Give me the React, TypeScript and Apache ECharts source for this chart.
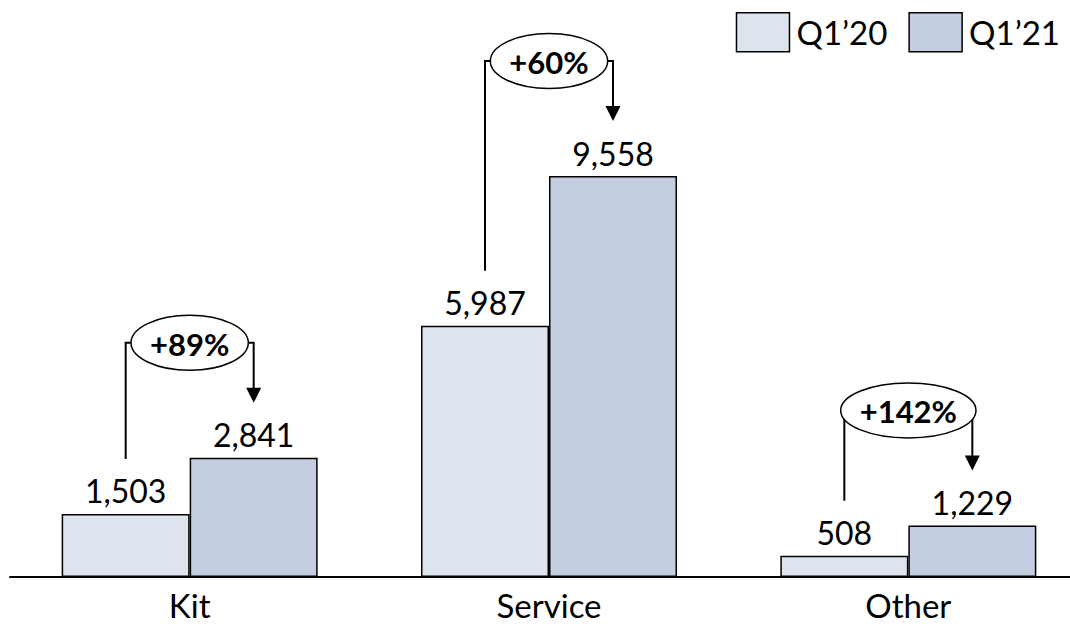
import { useEffect, useRef } from 'react';
import * as echarts from 'echarts';

// Revenue by segment, Q1'20 vs Q1'21
const categories = ['Kit', 'Service', 'Other'];
const seriesNames = ['Q1’20', 'Q1’21'];
const q120Values = [1503, 5987, 508];
const q121Values = [2841, 9558, 1229];

const FONT = 'Lato, "Noto Sans", sans-serif';
const BAR_WIDTH = 128;
const COLORS = ['#DEE4EE', '#C4CEE0'];

function measure(text: string, font: string): number {
  const ctx = document.createElement('canvas').getContext('2d');
  if (!ctx) return text.length * 20;
  ctx.font = font;
  return ctx.measureText(text).width;
}

export default function App() {
  const ref = useRef<HTMLDivElement>(null);

  useEffect(() => {
    if (!ref.current) return;
    const chart = echarts.init(ref.current, undefined, { renderer: 'svg' });

    const valueLabel = {
      show: true,
      position: 'top' as const,
      distance: 7,
      fontSize: 32,
      fontFamily: FONT,
      color: '#000',
      formatter: (p: any) => Number(p.value).toLocaleString('en-US'),
    };

    chart.setOption({
      animation: false,
      backgroundColor: '#fff',
      grid: { left: 10, top: 0, width: 1078, height: 577, outerBoundsMode: 'none', containLabel: false },
      legend: {
        data: seriesNames,
        right: 5,
        top: 7,
        icon: 'rect',
        itemWidth: 53,
        itemHeight: 39,
        itemGap: 21,
        itemStyle: { borderColor: '#000', borderWidth: 1.5 },
        textStyle: { fontSize: 33, fontFamily: FONT, color: '#000', padding: [0, 0, 0, 2] },
      },
      xAxis: {
        type: 'category',
        data: categories,
        axisLine: { lineStyle: { color: '#000', width: 2 } },
        axisTick: { show: false },
        axisLabel: { fontSize: 33, lineHeight: 33, fontFamily: FONT, color: '#000', margin: 11 },
      },
      yAxis: { type: 'value', min: 0, max: 13754, show: false, splitLine: { show: false } },
      series: [
        {
          name: seriesNames[0],
          type: 'bar',
          data: q120Values,
          barWidth: BAR_WIDTH,
          barGap: '0%',
          itemStyle: { color: COLORS[0], borderColor: '#000', borderWidth: 1.5 },
          label: valueLabel,
        },
        {
          name: seriesNames[1],
          type: 'bar',
          data: q121Values,
          barWidth: BAR_WIDTH,
          barGap: '0%',
          itemStyle: { color: COLORS[1], borderColor: '#000', borderWidth: 1.5 },
          label: valueLabel,
        },
      ],
    });

    // Growth brackets: from the Q1'20 bar over to the Q1'21 bar, with a % badge
    const pctFont = `bold 31px ${FONT}`;
    const graphics: any[] = [];
    categories.forEach((_, i) => {
      const a = q120Values[i];
      const b = q121Values[i];
      const [cx, topA] = chart.convertToPixel({ xAxisIndex: 0, yAxisIndex: 0 }, [i, a]) as number[];
      const [, topB] = chart.convertToPixel({ xAxisIndex: 0, yAxisIndex: 0 }, [i, b]) as number[];
      const lx = cx - BAR_WIDTH / 2;
      const rx = cx + BAR_WIDTH / 2;
      const startY = topA - 55;
      const tipY = topB - 55;
      const cy = topB - 115;
      const arrowH = 15;
      const arrowW = 15;
      const text = `+${Math.round((b / a - 1) * 100)}%`;
      const w = measure(text, pctFont);

      graphics.push({
        type: 'polyline',
        shape: { points: [[lx, startY], [lx, cy], [rx, cy], [rx, tipY - arrowH + 1]] },
        style: { stroke: '#000', lineWidth: 2, fill: null },
        z: 10,
      });
      graphics.push({
        type: 'polygon',
        shape: { points: [[rx - arrowW / 2, tipY - arrowH], [rx + arrowW / 2, tipY - arrowH], [rx, tipY]] },
        style: { fill: '#000' },
        z: 10,
      });
      graphics.push({
        type: 'ellipse',
        shape: { cx, cy, rx: w / 2 + 19, ry: 27.5 },
        style: { fill: '#fff', stroke: '#000', lineWidth: 1.5 },
        z: 11,
      });
      graphics.push({
        type: 'text',
        x: cx,
        y: cy + 1,
        style: {
          text,
          font: pctFont,
          fill: '#000',
          align: 'center',
          verticalAlign: 'middle',
          textAlign: 'center',
          textVerticalAlign: 'middle',
        },
        z: 12,
      });
    });
    chart.setOption({ graphic: graphics });

    return () => chart.dispose();
  }, []);

  return (
    <div
      ref={ref}
      style={{ position: 'absolute', left: 0, top: 0, width: 1070, height: 624 }}
    />
  );
}
